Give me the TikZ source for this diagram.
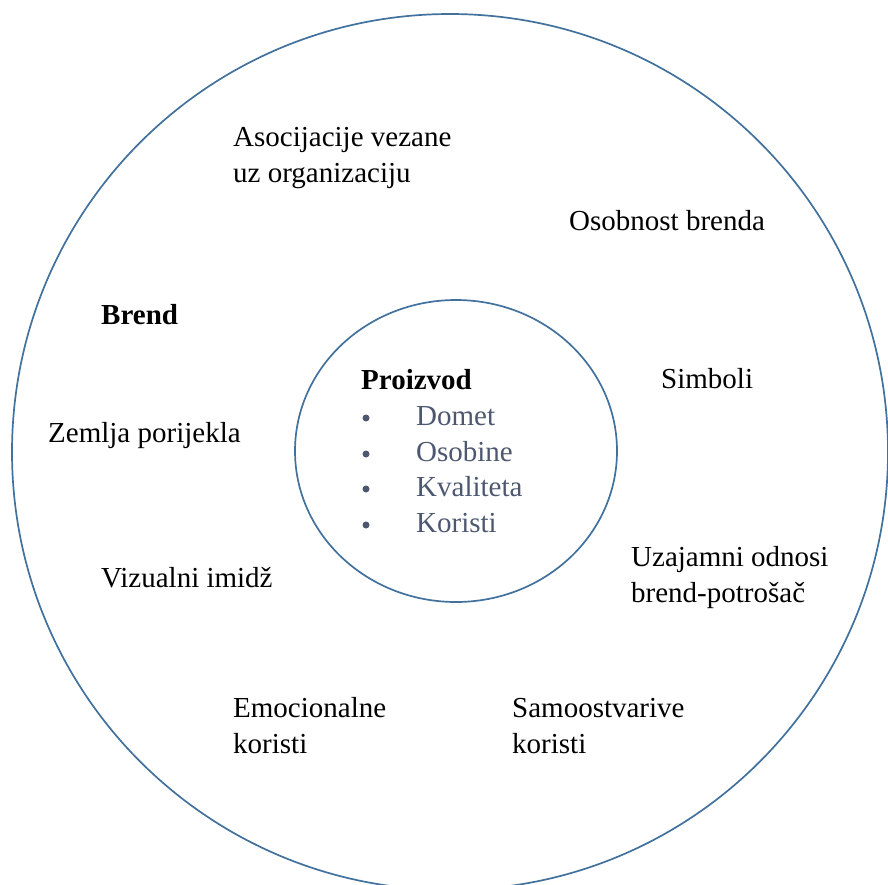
\documentclass[tikz,border=0pt]{standalone}
\usepackage{fontspec}
\setmainfont{Liberation Serif}
\definecolor{ringblue}{HTML}{41719C}
\definecolor{listgray}{HTML}{4D5870}
\begin{document}
\begin{tikzpicture}[x=1pt,y=-1pt,
  lbl/.style={anchor=base west,inner sep=0pt,font=\fontsize{29}{35.5}\selectfont,align=left},
  item/.style={lbl,text=listgray},
  dot/.style={circle,fill=listgray,inner sep=0pt,minimum size=7pt},
  ring/.style={draw=ringblue,line width=1.7pt}]
\useasboundingbox (0,0) rectangle (888,884);
\begin{scope}
\clip (0,0) rectangle (888,884);
\draw[ring] (450,452) circle[radius=438];
\end{scope}
\draw[ring] (456,451) ellipse[x radius=161,y radius=151];
\node[lbl] (asoc) at (233,182) {Asocijacije vezane\\uz organizaciju};
\node[lbl] (osob) at (569,230) {Osobnost brenda};
\node[lbl,font=\fontsize{29}{35.5}\selectfont\bfseries] (brend) at (101,324) {Brend};
\node[lbl] (simb) at (661,388) {Simboli};
\node[lbl] (zem) at (48,442) {Zemlja porijekla};
\node[lbl] (viz) at (101,587) {Vizualni imidž};
\node[lbl] (uza) at (631,602) {Uzajamni odnosi\\brend-potrošač};
\node[lbl] (emo) at (233,753) {Emocionalne\\koristi};
\node[lbl] (samo) at (512,753) {Samoostvarive\\koristi};
\node[lbl,font=\fontsize{29}{35.5}\selectfont\bfseries] (proiz) at (361,389) {Proizvod};
\node[item] (i1) at (416,425) {Domet};
\node[item] (i2) at (416,461) {Osobine};
\node[item] (i3) at (416,496) {Kvaliteta};
\node[item] (i4) at (416,532) {Koristi};
\node[dot] (d1) at (366,418) {};
\node[dot] (d2) at (366,454) {};
\node[dot] (d3) at (366,489) {};
\node[dot] (d4) at (366,525) {};
\end{tikzpicture}
\end{document}
